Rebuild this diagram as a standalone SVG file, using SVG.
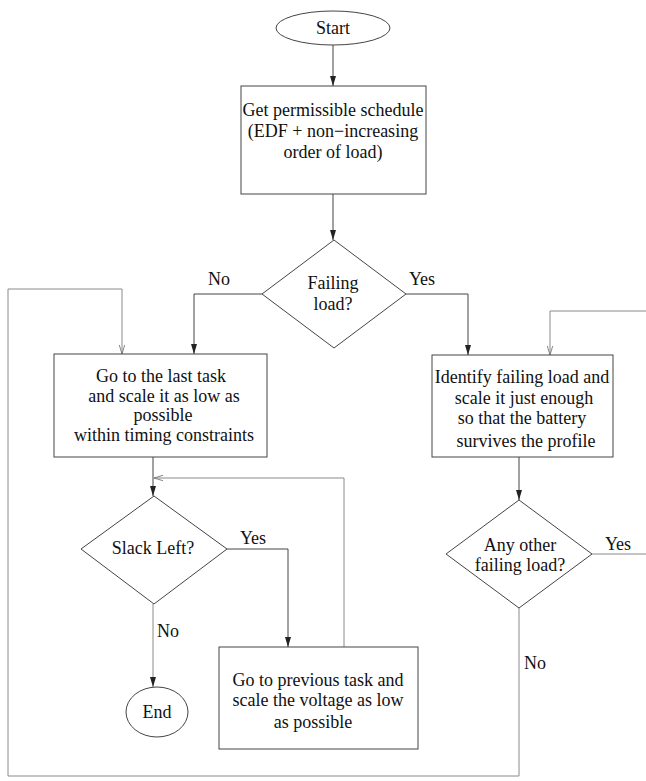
<svg xmlns="http://www.w3.org/2000/svg" width="646" height="781" viewBox="0 0 646 781">
  <style>
    .shape { fill: #ffffff; stroke: #444444; stroke-width: 1; }
    .label { font-family: "Liberation Serif", "Times New Roman", serif; font-size: 18px; fill: #111111; text-anchor: middle; }
    .flow { fill: none; stroke: #444444; stroke-width: 1; }
    .loop { fill: none; stroke: #8a8a8a; stroke-width: 1; }
  </style>
  <defs>
    <marker id="solid" viewBox="0 0 10 10" refX="10" refY="5" markerWidth="10" markerHeight="10" markerUnits="userSpaceOnUse" orient="auto">
      <path d="M0,2 L10,5 L0,8 Z" fill="#222222"/>
    </marker>
    <marker id="open" viewBox="0 0 10 10" refX="10" refY="5" markerWidth="9" markerHeight="9" markerUnits="userSpaceOnUse" orient="auto">
      <path d="M0,2 L10,5 L0,8" fill="none" stroke="#777777" stroke-width="1"/>
    </marker>
  </defs>

  <rect width="646" height="781" fill="#ffffff"/>

  <!-- connectors -->
  <g id="connectors">
    <line class="flow" x1="333" y1="45" x2="333" y2="86" marker-end="url(#solid)"/>
    <line class="flow" x1="333" y1="194" x2="333" y2="240" marker-end="url(#solid)"/>
    <polyline class="flow" points="262,294 194,294 194,354" marker-end="url(#solid)"/>
    <polyline class="flow" points="406,294 468,294 468,355" marker-end="url(#solid)"/>
    <line class="flow" x1="153" y1="457" x2="153" y2="496" marker-end="url(#solid)"/>
    <polyline class="flow" points="227,549 288,549 288,647" marker-end="url(#solid)"/>
    <line class="loop" x1="153" y1="604" x2="153" y2="687" marker-end="url(#solid)"/>
    <line class="flow" x1="519" y1="457" x2="519" y2="500" marker-end="url(#solid)"/>
    <!-- retry loop back to the slack test -->
    <polyline class="loop" points="344,647 344,478 154,478" marker-end="url(#open)"/>
    <!-- no more failing loads: back to the last task -->
    <polyline class="loop" points="519,608 519,776 8,776 8,289 122,289 122,354" marker-end="url(#open)"/>
    <!-- another failing load: back to identification -->
    <line class="loop" x1="592" y1="554" x2="646" y2="554"/>
    <polyline class="loop" points="646,311 550,311 550,355" marker-end="url(#open)"/>
  </g>

  <g id="start">
    <ellipse class="shape" cx="333" cy="28" rx="57" ry="17"/>
    <text class="label" x="333" y="34">Start</text>
  </g>

  <g id="schedule">
    <rect class="shape" x="241" y="86" width="185" height="108"/>
    <text class="label" x="333" y="116">Get permissible schedule</text>
    <text class="label" x="333" y="137">(EDF + non−increasing</text>
    <text class="label" x="333" y="158">order of load)</text>
  </g>

  <g id="failing">
    <polygon class="shape" points="334,240 406,294 334,348 262,294"/>
    <text class="label" x="333" y="289">Failing</text>
    <text class="label" x="333" y="310">load?</text>
    <text class="label" x="219" y="285">No</text>
    <text class="label" x="422" y="285">Yes</text>
  </g>

  <g id="lastTask">
    <rect class="shape" x="54" y="354" width="213" height="103"/>
    <text class="label" x="161" y="382">Go to the last task</text>
    <text class="label" x="164" y="402">and scale it as low as</text>
    <text class="label" x="163" y="421">possible</text>
    <text class="label" x="164" y="441">within timing constraints</text>
  </g>

  <g id="identify">
    <rect class="shape" x="432" y="355" width="181" height="102"/>
    <text class="label" x="522" y="383">Identify failing load and</text>
    <text class="label" x="524" y="404">scale it just enough</text>
    <text class="label" x="522" y="424">so that the battery</text>
    <text class="label" x="526" y="447">survives the profile</text>
  </g>

  <g id="slack">
    <polygon class="shape" points="154,496 227,549 154,604 81,549"/>
    <text class="label" x="153" y="554">Slack Left?</text>
    <text class="label" x="253" y="544">Yes</text>
    <text class="label" x="168" y="637">No</text>
  </g>

  <g id="otherFailing">
    <polygon class="shape" points="519,500 592,554 519,608 446,554"/>
    <text class="label" x="520" y="551">Any other</text>
    <text class="label" x="520" y="571">failing load?</text>
    <text class="label" x="618" y="550">Yes</text>
    <text class="label" x="535" y="669">No</text>
  </g>

  <g id="previous">
    <rect class="shape" x="219" y="647" width="199" height="102"/>
    <text class="label" x="318" y="686">Go to previous task and</text>
    <text class="label" x="318" y="706">scale the voltage as low</text>
    <text class="label" x="313" y="728">as possible</text>
  </g>

  <g id="end">
    <ellipse class="shape" cx="157" cy="712" rx="31" ry="25"/>
    <text class="label" x="157" y="718">End</text>
  </g>
</svg>
